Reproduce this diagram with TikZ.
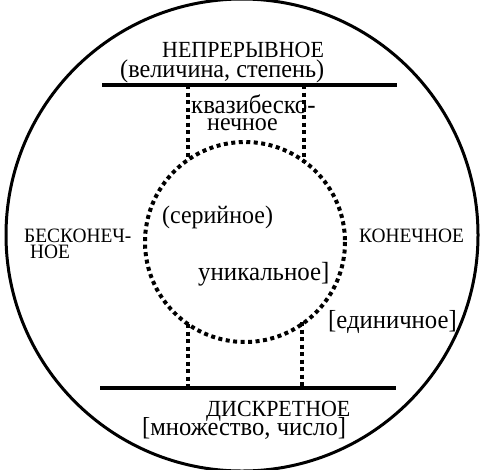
\documentclass[tikz,border=0pt]{standalone}
\usepackage{fontspec}
\setmainfont[FakeStretch=0.95]{Liberation Serif}
\newcommand{\fs}[1]{\fontsize{#1}{#1}\selectfont}
\tikzset{
  solidline/.style={line width=3.5pt},
  dotline/.style={line width=4pt, dash pattern=on 4pt off 3.5pt},
  lbl/.style={inner sep=0pt, anchor=base west},
}
\begin{document}
\begin{tikzpicture}[x=1pt,y=-1pt]
\useasboundingbox (0,0) rectangle (484,469);
\draw[line width=3pt] (242,235) circle (236);
\coordinate (c) at (245,242);
\draw[dotline] (c) circle (100);
% horizontal lines
\coordinate (tl) at (102,85); \coordinate (tr) at (397,85);
\coordinate (bl) at (100,388); \coordinate (br) at (396,388);
\draw[solidline] (tl) -- (tr);
\draw[solidline] (bl) -- (br);
% dotted connectors
\coordinate (t1) at (188,85); \coordinate (t2) at (304,85);
\coordinate (u1) at (188,160); \coordinate (u2) at (304,163);
\coordinate (b1) at (188,388); \coordinate (b2) at (302,388);
\coordinate (d1) at (188,324); \coordinate (d2) at (302,322);
\draw[dotline] (t1) -- (u1);
\draw[dotline] (t2) -- (u2);
\draw[dotline] (d1) -- (b1);
\draw[dotline] (d2) -- (b2);
% texts
\node[lbl, font=\fs{23.1}] (n1) at (162,57) {НЕПРЕРЫВНОЕ};
\node[lbl, font=\fs{25.5}] (n2) at (120,77) {(величина, степень)};
\node[lbl, font=\fs{26.2}] (n3) at (191,113) {квазибеско-};
\node[lbl, font=\fs{25.2}] (n4) at (207,130) {нечное};
\node[lbl, font=\fs{25.2}] (n5) at (162,223) {(серийное)};
\node[lbl, font=\fs{20.4}] (n6) at (24,242) {БЕСКОНЕЧ-};
\node[lbl, font=\fs{20.4}] (n6b) at (30,258) {НОЕ};
\node[lbl, font=\fs{20.4}] (n7) at (359,242) {КОНЕЧНОЕ};
\node[lbl, font=\fs{26.2}] (n8) at (198,280) {уникальное]};
\node[lbl, font=\fs{26}] (n9) at (328,328) {[единичное]};
\node[lbl, font=\fs{23.1}] (n10) at (206,416) {ДИСКРЕТНОЕ};
\node[lbl, font=\fs{25.9}] (n11) at (142,435) {[множество, число]};
\end{tikzpicture}
\end{document}
